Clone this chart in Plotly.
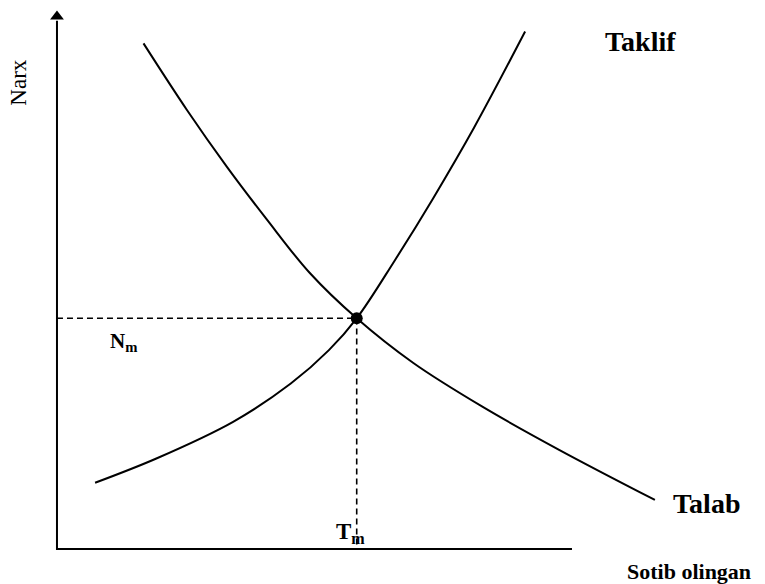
import plotly.graph_objects as go

# demand curve (Talab) - quantity / price
demand_q = [1.68, 2.52, 3.30, 4.07, 4.91, 5.82, 6.92, 8.26, 9.75, 11.61]
demand_p = [9.38, 8.15, 7.09, 6.12, 5.12, 4.28, 3.45, 2.64, 1.84, 0.91]

# supply curve (Taklif)
supply_q = [0.74, 1.93, 3.42, 4.54, 5.28, 5.82, 6.55, 7.30, 8.10, 9.09]
supply_p = [1.23, 1.68, 2.36, 3.07, 3.69, 4.28, 5.34, 6.50, 7.82, 9.60]

# equilibrium point
eq_q = 5.82
eq_p = 4.28

# axis extents
axis_q_max = 10.0
axis_p_max = 10.0

serif = "Liberation Serif"

fig = go.Figure()

# dashed guides to the axes
fig.add_trace(go.Scatter(
    x=[0, eq_q, eq_q], y=[eq_p, eq_p, 0],
    mode='lines', line=dict(color='black', width=1.6, dash='6px,4px'),
    hoverinfo='skip'))

# axes
fig.add_trace(go.Scatter(
    x=[0, 0, axis_q_max], y=[axis_p_max - 0.2, 0, 0],
    mode='lines', line=dict(color='black', width=2), hoverinfo='skip'))
# arrow head on the price axis
fig.add_trace(go.Scatter(
    x=[0], y=[axis_p_max - 0.12], mode='markers',
    marker=dict(symbol='triangle-up', size=12, color='black'), hoverinfo='skip'))

fig.add_trace(go.Scatter(x=demand_q, y=demand_p, mode='lines', line_shape='spline',
                         line=dict(color='black', width=2), name='Talab'))
fig.add_trace(go.Scatter(x=supply_q, y=supply_p, mode='lines', line_shape='spline',
                         line=dict(color='black', width=2), name='Taklif'))

fig.add_trace(go.Scatter(x=[eq_q], y=[eq_p], mode='markers',
                         marker=dict(color='black', size=12), hoverinfo='skip'))

bold = dict(family=serif, size=28, color='black', weight='bold')

fig.add_annotation(x=11.34, y=9.41, text='Taklif', showarrow=False, font=bold)
fig.add_annotation(x=12.62, y=0.85, text='Talab', showarrow=False, font=bold)
fig.add_annotation(x=12.27, y=-0.41, text='Sotib olingan', showarrow=False,
                   font=dict(family=serif, size=22, color='black', weight='bold'))
fig.add_annotation(x=-0.74, y=8.65, text='Narx', showarrow=False, textangle=-90,
                   font=dict(family=serif, size=23, color='black'))
fig.add_annotation(x=0.99, y=3.84, text='N<sub>m</sub>', showarrow=False, xanchor='left',
                   font=dict(family=serif, size=21, color='black', weight='bold'))
fig.add_annotation(x=5.38, y=0.30, text='T<sub>m</sub>', showarrow=False, xanchor='left',
                   font=dict(family=serif, size=23, color='black', weight='bold'))

# figure sits 8px in from the page corner, so it is sized to fit the window
fig.update_layout(
    width=757, height=576,
    margin=dict(l=0, r=0, t=0, b=0),
    paper_bgcolor='white', plot_bgcolor='white',
    showlegend=False,
    xaxis=dict(range=[-0.951, 13.748], visible=False, fixedrange=True),
    yaxis=dict(range=[-0.649, 10.037], visible=False, fixedrange=True),
)

fig.write_html("out.html")
